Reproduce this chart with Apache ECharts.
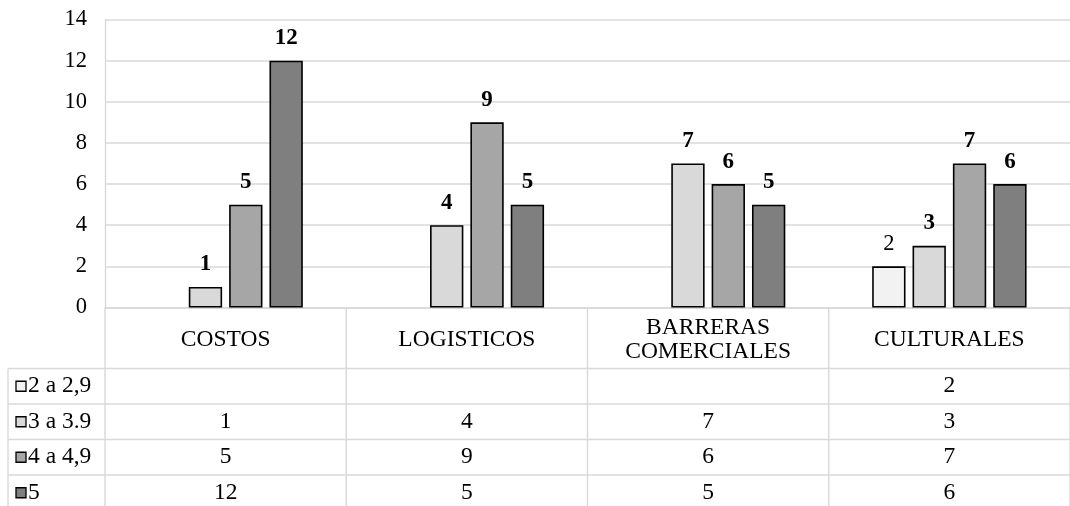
<!DOCTYPE html>
<html>
<head>
<meta charset="utf-8">
<script src="https://cdn.jsdelivr.net/npm/echarts@6/dist/echarts.min.js"></script>
<style>
  html, body { margin: 0; padding: 0; background: #ffffff; overflow: hidden; }
  #chart { width: 1070px; height: 506px; }
</style>
</head>
<body>
<div id="chart"></div>
<script>
// Categories and the four score ranges
const categories = ['COSTOS', 'LOGISTICOS', 'BARRERAS COMERCIALES', 'CULTURALES'];
const seriesNames = ['2 a 2,9', '3 a 3.9', '4 a 4,9', '5'];
const range2to29 = [null, null, null, 2];
const range3to39 = [1, 4, 7, 3];
const range4to49 = [5, 9, 6, 7];
const range5 = [12, 5, 5, 6];
const yTickLabels = ['0', '2', '4', '6', '8', '10', '12', '14'];

const seriesValues = [range2to29, range3to39, range4to49, range5];
const seriesColors = ['#f2f2f2', '#d9d9d9', '#a6a6a6', '#7f7f7f'];
const FONT = '"Liberation Serif", "Times New Roman", serif';
const GRID_LINE = '#d9d9d9';
const AXIS_SIZE = 22.5;
const TABLE_SIZE = 23.5;
const LABEL_SIZE = 23;

const chart = echarts.init(document.getElementById('chart'), null, { renderer: 'canvas' });

const gridTop = 19.5, gridBottomY = 307.5;
const gridLeft = 105, gridWidth = 973;

const series = seriesValues.map((vals, i) => ({
  name: seriesNames[i],
  type: 'bar',
  data: vals,
  barCategoryGap: '36%',
  barGap: '21%',
  itemStyle: { color: seriesColors[i], borderColor: '#000000', borderWidth: 1.6 },
  label: {
    show: true,
    position: 'top',
    distance: 11,
    fontFamily: FONT,
    fontSize: i === 0 ? AXIS_SIZE : LABEL_SIZE,
    fontWeight: i === 0 ? 'normal' : 'bold',
    color: '#000000'
  },
  emphasis: { disabled: true },
  animation: false
}));

chart.setOption({
  animation: false,
  backgroundColor: '#ffffff',
  grid: { left: gridLeft, top: gridTop, width: gridWidth, height: gridBottomY - gridTop, containLabel: false },
  xAxis: {
    type: 'category',
    data: categories,
    axisTick: { show: false },
    axisLine: { show: true, lineStyle: { color: GRID_LINE, width: 1.6 } },
    axisLabel: {
      show: true,
      interval: 0,
      margin: 32,
      verticalAlign: 'middle',
      fontFamily: FONT,
      fontSize: TABLE_SIZE,
      lineHeight: 24,
      color: '#000000',
      formatter: v => v.replace(' ', '\n')
    }
  },
  yAxis: {
    type: 'value',
    min: 0,
    max: 14,
    interval: 2,
    axisLine: { show: true, lineStyle: { color: GRID_LINE, width: 1.4 } },
    axisTick: { show: false },
    splitLine: { show: true, lineStyle: { color: GRID_LINE, width: 1.6 } },
    axisLabel: {
      margin: 18,
      fontFamily: FONT,
      fontSize: AXIS_SIZE,
      color: '#000000',
      formatter: (v) => yTickLabels[Math.round(v / 2)]
    }
  },
  series: series
});

// Data table under the plot: row keys, cell values and grid lines
function drawTable() {
  const centers = categories.map(c => chart.convertToPixel({ xAxisIndex: 0 }, c));
  const band = centers[1] - centers[0];
  const bounds = [centers[0] - band / 2].concat(centers.map(c => c + band / 2));
  const rowTop = 368.5, rowH = 35.5, tableLeft = 8, bottom = 506, right = 1070;
  const elements = [];
  const line = (x1, y1, x2, y2, w) => ({
    type: 'line', silent: true,
    shape: { x1, y1, x2, y2 },
    style: { stroke: GRID_LINE, lineWidth: w }
  });
  for (let r = 0; r < seriesNames.length; r++) {
    elements.push(line(tableLeft, rowTop + r * rowH, right, rowTop + r * rowH, 1.6));
  }
  elements.push(line(tableLeft, rowTop, tableLeft, bottom, 1.4));
  bounds.forEach(x => elements.push(line(x, gridBottomY, x, bottom, 1.4)));

  seriesNames.forEach((name, r) => {
    const cy = rowTop + r * rowH + rowH / 2;
    elements.push({
      type: 'rect', silent: true,
      shape: { x: 16, y: cy - 5, width: 10, height: 10 },
      style: { fill: seriesColors[r], stroke: '#000000', lineWidth: 1.3 }
    });
    elements.push({
      type: 'text', silent: true, x: 28, y: cy,
      style: { text: name, font: TABLE_SIZE + 'px ' + FONT, fill: '#000000', align: 'left', verticalAlign: 'middle' }
    });
    seriesValues[r].forEach((v, c) => {
      if (v === null) return;
      elements.push({
        type: 'text', silent: true, x: centers[c], y: cy,
        style: { text: String(v), font: TABLE_SIZE + 'px ' + FONT, fill: '#000000', align: 'center', verticalAlign: 'middle' }
      });
    });
  });
  chart.setOption({ graphic: { elements } });
}
drawTable();
</script>
</body>
</html>
